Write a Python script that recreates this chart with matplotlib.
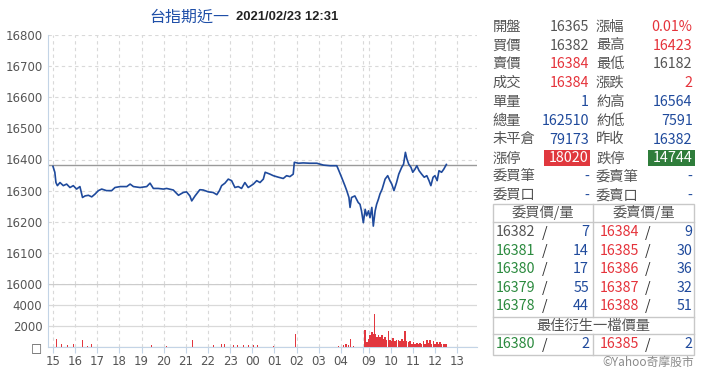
import matplotlib
matplotlib.use("Agg")
import matplotlib.pyplot as plt
from matplotlib.patches import Rectangle

# ---- 走勢資料 ----
price_times = [
    "15:00", "15:05", "15:08", "15:12", "15:19", "15:28", "15:37", "15:46", "15:55",
    "16:04", "16:13", "16:20", "16:27", "16:36", "16:45", "16:54", "17:03", "17:12",
    "17:25", "17:39", "17:48", "18:02", "18:20", "18:29", "18:38", "18:56", "19:14",
    "19:23", "19:32", "19:45", "19:59", "20:08", "20:26", "20:40", "20:53", "21:02",
    "21:11", "21:16", "21:25", "21:38", "21:47", "22:01", "22:14", "22:24", "22:31",
    "22:37", "22:46", "22:55", "23:04", "23:13", "23:22", "23:31", "23:40", "23:49",
    "00:03", "00:12", "00:21", "00:30", "00:35", "00:48", "00:57", "01:11", "01:24",
    "01:33", "01:42", "01:51", "01:54", "02:05", "02:18", "02:36", "02:55", "03:13",
    "03:31", "03:49", "03:53", "04:02", "04:11", "04:16", "04:22", "04:25", "04:29",
    "04:38", "04:47", "04:52", "04:56",
    "08:46", "08:51", "08:55", "09:00", "09:04", "09:09", "09:13", "09:18", "09:22",
    "09:27", "09:31", "09:37", "09:45", "09:52", "09:58", "10:03", "10:09", "10:16",
    "10:22", "10:30", "10:35", "10:40", "10:44", "10:49", "10:55", "11:00", "11:06",
    "11:11", "11:17", "11:24", "11:31", "11:38", "11:44", "11:49", "11:55", "12:00",
    "12:06", "12:11", "12:18", "12:24", "12:31",
]
price_values = [
    16378, 16359, 16326, 16316, 16326, 16316, 16321, 16310, 16316,
    16305, 16313, 16278, 16283, 16285, 16280, 16289, 16300, 16305,
    16300, 16300, 16310, 16313, 16313, 16321, 16313, 16310, 16313,
    16324, 16307, 16307, 16305, 16307, 16302, 16285, 16294, 16296,
    16283, 16267, 16283, 16303, 16302, 16296, 16294, 16287, 16300,
    16316, 16324, 16337, 16332, 16310, 16313, 16307, 16326, 16310,
    16321, 16332, 16326, 16337, 16359, 16353, 16348, 16343, 16339,
    16348, 16345, 16353, 16391, 16388, 16389, 16388, 16388, 16382,
    16380, 16380, 16369, 16343, 16316, 16300, 16278, 16246, 16278,
    16283, 16262, 16256, 16235,
    16197, 16240, 16219, 16235, 16213, 16246, 16186, 16235, 16256,
    16273, 16289, 16305, 16337, 16348, 16332, 16321, 16300, 16326,
    16353, 16375, 16385, 16423, 16402, 16385, 16375, 16359, 16369,
    16380, 16364, 16353, 16343, 16348, 16332, 16316, 16343, 16348,
    16332, 16364, 16359, 16369, 16384,
]
prev_close = 16382

vol_times = [
    "15:10", "15:14", "15:23", "15:33", "15:40", "15:46", "15:55", "16:05", "16:20",
    "16:24", "16:33", "16:45", "17:07", "17:34", "18:02", "18:29", "18:50", "19:27",
    "19:50", "20:08", "20:25", "20:44", "21:18", "21:38", "21:55", "22:15", "22:25",
    "22:37", "22:45", "22:52", "23:09", "23:20", "23:36", "23:50", "00:03", "00:15",
    "00:35", "00:45", "00:57", "01:10", "01:57", "02:09", "02:55", "03:53", "04:03",
    "04:07", "04:12", "04:16", "04:20", "04:27", "04:34", "04:47",
    "08:51", "08:55", "09:00", "09:04", "09:09", "09:13", "09:16", "09:19", "09:23",
    "09:27", "09:31", "09:36", "09:40", "09:45", "09:49", "09:54", "09:58", "10:03",
    "10:07", "10:12", "10:16", "10:21", "10:25", "10:30", "10:34", "10:39", "10:43",
    "10:48", "10:53", "10:57", "11:02", "11:06", "11:11", "11:15", "11:20", "11:24",
    "11:29", "11:33", "11:38", "11:42", "11:47", "11:51", "11:56", "12:00", "12:05",
    "12:09", "12:14", "12:18", "12:23", "12:27", "12:31",
]
vol_values = [
    800, 480, 260, 260, 200, 160, 260, 150, 650,
    320, 100, 260, 130, 130, 130, 130, 80, 160,
    90, 130, 100, 130, 650, 130, 120, 160, 150,
    320, 250, 550, 190, 200, 160, 150, 160, 150,
    800, 100, 130, 80, 1230, 130, 60, 130, 200,
    190, 300, 260, 150, 800, 130, 130,
    1600, 430, 770, 1100, 1430, 1270, 3170, 1270, 930,
    1100, 930, 1100, 770, 930, 670, 1530, 670, 530,
    870, 530, 670, 670, 600, 770, 530, 1500, 530,
    430, 600, 330, 430, 330, 400, 270, 400, 330,
    600, 330, 670, 400, 670, 330, 530, 270, 470,
    270, 430, 270, 330, 270, 330,
]

hour_labels = ["15", "16", "17", "18", "19", "20", "21", "22", "23", "00",
               "01", "02", "03", "04", "", "09", "10", "11", "12", "13"]
hour_times = ["15:00", "16:00", "17:00", "18:00", "19:00", "20:00", "21:00",
              "22:00", "23:00", "00:00", "01:00", "02:00", "03:00", "04:00",
              "08:45", "09:00", "10:00", "11:00", "12:00", "13:00"]

# ---- 右側報價 ----
left_labels = ["開盤", "買價", "賣價", "成交", "單量", "總量", "未平倉", "漲停", "委買筆", "委買口"]
left_values = ["16365", "16382", "16384", "16384", "1", "162510", "79173", "18020", "-", "-"]
right_labels = ["漲幅", "最高", "最低", "漲跌", "約高", "約低", "昨收", "跌停", "委賣筆", "委賣口"]
right_values = ["0.01%", "16423", "16182", "2", "16564", "7591", "16382", "14744", "-", "-"]

bid_prices = ["16382", "16381", "16380", "16379", "16378"]
bid_qty = ["7", "14", "17", "55", "44"]
ask_prices = ["16384", "16385", "16386", "16387", "16388"]
ask_qty = ["9", "30", "36", "32", "51"]
best_bid = ("16380", "2")
best_ask = ("16385", "2")


def session_minutes(hhmm):
    h, m = map(int, hhmm.split(":"))
    if h >= 15:
        return (h - 15) * 60 + m
    if h < 8:
        return (h + 9) * 60 + m
    return 840 + (h * 60 + m) - (8 * 60 + 45)


GRAY = "#555555"
RED = "#e5333b"
BLUE = "#1f4a9c"
GREEN = "#2b8a3e"
SPINE = "#c3d4e6"
GRID = "#d9d9d9"
CJK = ["Noto Sans CJK TC", "DejaVu Sans"]

fig = plt.figure(figsize=(7.2, 3.78), dpi=100)

W, H = 720, 378
x0, x1 = 48, 477
ax = fig.add_axes([x0 / W, 1 - 284 / H, (x1 - x0) / W, (284 - 35) / H])
axv = fig.add_axes([x0 / W, 1 - 347 / H, (x1 - x0) / W, (347 - 284) / H], sharex=ax)

pt = [session_minutes(t) for t in price_times]
ax.plot(pt, price_values, color=BLUE, lw=1.2, zorder=3)
ax.axhline(prev_close, color="#9a9a9a", lw=1, zorder=2)
ax.set_ylim(16000, 16800)
ax.set_yticks(range(16000, 16801, 100))
ax.set_xlim(-13.5, 1149)

vt = [session_minutes(t) for t in vol_times]
# 夜盤細柱, 日盤密集柱
widths = [1.6 if t < 840 else 4.6 for t in vt]
axv.bar(vt, vol_values, width=widths, color="#e2373f", linewidth=0, zorder=3)
axv.set_ylim(0, 6000)
axv.set_yticks([0, 2000, 4000])
axv.set_yticklabels(["□", "2000", "4000"])

ticks = [session_minutes(t) for t in hour_times]
for a in (ax, axv):
    for s in ("top", "right", "bottom"):
        a.spines[s].set_visible(False)
    a.spines["left"].set_color(SPINE)
    a.set_xticks(ticks)
    a.grid(axis="x", color=GRID, ls=(0, (3, 3)), lw=0.8)
    a.tick_params(axis="y", length=0, pad=4, labelsize=8.5, labelcolor=GRAY)
    a.set_facecolor("none")
ax.grid(axis="y", color=GRID, ls=(0, (3, 3)), lw=0.8)
axv.grid(axis="y", color=GRID, lw=0.9)
axv.axhline(6000, color="#cccccc", lw=1)
axv.spines["bottom"].set_visible(True)
axv.spines["bottom"].set_color(SPINE)
ax.tick_params(axis="x", length=0, labelbottom=False)
axv.tick_params(axis="x", length=4, color=SPINE, pad=2, labelsize=8.5, labelcolor=GRAY)
axv.set_xticklabels(hour_labels)

# ---- 標題 ----
fig.text(149 / W, 1 - 17 / H, "台指期近一", family=CJK, fontsize=11.5, color="#1f4fa8",
         ha="left", va="center")
fig.text(236 / W, 1 - 17.5 / H, "2021/02/23 12:31", family="Liberation Sans",
         fontsize=9.4, fontweight="bold", color="#222222", ha="left", va="center")

# ---- 右側面板 ----
ov = fig.add_axes([0, 0, 1, 1])
ov.set_xlim(0, W)
ov.set_ylim(H, 0)
ov.axis("off")

left_colors = [GRAY, GRAY, RED, RED, BLUE, BLUE, BLUE, "white", BLUE, BLUE]
right_colors = [RED, RED, GRAY, RED, BLUE, BLUE, BLUE, "white", BLUE, BLUE]
fs = 10.3
for i in range(len(left_labels)):
    y = 26.7 + 18.8 * i
    if i == 7:
        ov.add_patch(Rectangle((544, y - 8.3), 46, 16, color="#e0383e", lw=0))
        ov.add_patch(Rectangle((648, y - 8.3), 47, 16, color="#2f7d3b", lw=0))
    ov.text(492.5, y, left_labels[i], family=CJK, fontsize=fs, color=GRAY, ha="left", va="center")
    ov.text(589, y, left_values[i], family=CJK, fontsize=fs, color=left_colors[i], ha="right", va="center")
    ov.text(596, y, right_labels[i], family=CJK, fontsize=fs, color=GRAY, ha="left", va="center")
    ov.text(692.5, y, right_values[i], family=CJK, fontsize=fs, color=right_colors[i], ha="right", va="center")

# 五檔表格框線
bc = "#c8c8c8"
ov.add_patch(Rectangle((493.3, 204.3), 200.7, 150.7, fill=False, ec=bc, lw=1))
for yy in (221.7, 317.3, 334):
    ov.plot([493.3, 694], [yy, yy], color=bc, lw=1)
ov.plot([593.3, 593.3], [204.3, 317.3], color=bc, lw=1)
ov.plot([593.3, 593.3], [334, 355], color=bc, lw=1)

ov.text(543.3, 213, "委買價/量", family=CJK, fontsize=fs, color=GRAY, ha="center", va="center")
ov.text(643.7, 213, "委賣價/量", family=CJK, fontsize=fs, color=GRAY, ha="center", va="center")


def book_row(y, bp, bq, ap, aq, bcolor):
    ov.text(496, y, bp, family=CJK, fontsize=fs, color=bcolor, ha="left", va="center")
    ov.text(545, y, "/", family=CJK, fontsize=fs, color="#333333", ha="center", va="center")
    ov.text(589, y, bq, family=CJK, fontsize=fs, color=BLUE, ha="right", va="center")
    ov.text(599.3, y, ap, family=CJK, fontsize=fs, color=RED, ha="left", va="center")
    ov.text(648, y, "/", family=CJK, fontsize=fs, color="#333333", ha="center", va="center")
    ov.text(692.3, y, aq, family=CJK, fontsize=fs, color=BLUE, ha="right", va="center")


for i in range(len(bid_prices)):
    book_row(232.5 + 18.45 * i, bid_prices[i], bid_qty[i], ask_prices[i], ask_qty[i],
             GRAY if i == 0 else GREEN)

ov.text(593.6, 325.7, "最佳衍生一檔價量", family=CJK, fontsize=fs, color=GRAY, ha="center", va="center")
book_row(344.5, best_bid[0], best_bid[1], best_ask[0], best_ask[1], GREEN)

ov.text(694, 362, "©Yahoo奇摩股市", family=CJK, fontsize=8.5, color="#8a8a8a", ha="right", va="center")

fig.savefig("out.png", dpi=100)
